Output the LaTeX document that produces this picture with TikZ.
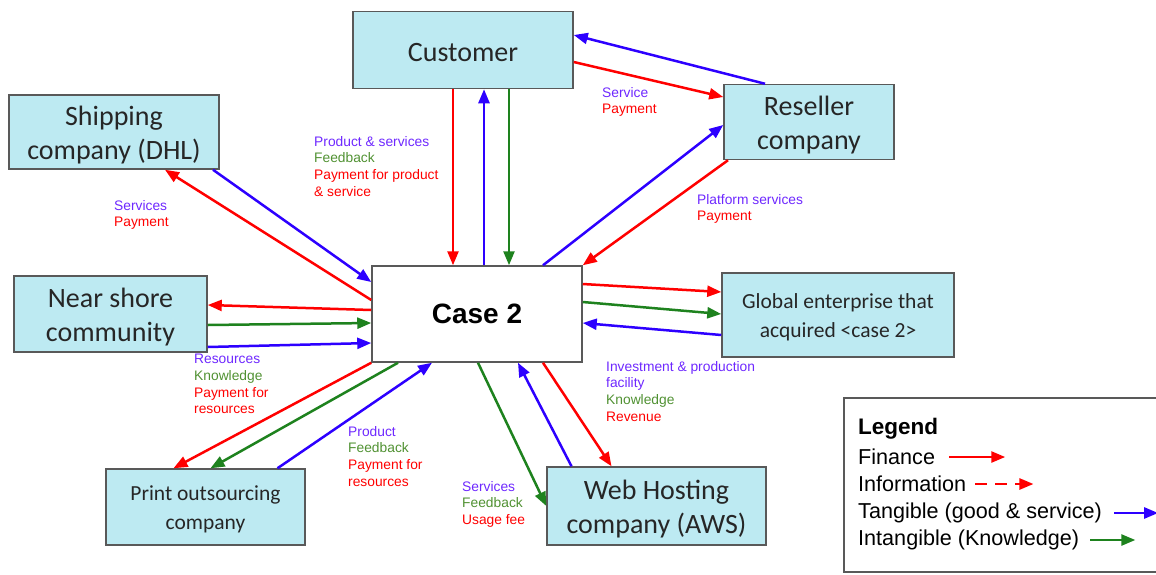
\documentclass[tikz,border=0pt]{standalone}
\usepackage{fontspec}
\setmainfont{Carlito}
\newfontfamily\arialfont{Liberation Sans}
\usetikzlibrary{arrows.meta}
\definecolor{boxcyan}{RGB}{189,234,242}
\definecolor{fincol}{RGB}{255,0,0}
\definecolor{tancol}{RGB}{45,0,255}
\definecolor{intcol}{RGB}{30,130,30}
\definecolor{tanlab}{RGB}{110,40,255}
\definecolor{intlab}{RGB}{80,145,50}
\newcommand\bigfont{\fontsize{28}{34}\selectfont}
\newcommand\midfont{\fontsize{21.5}{29}\selectfont}
\newcommand\labfont{\arialfont\fontsize{13.8}{16.7}\selectfont}
\newcommand\legfont{\arialfont\fontsize{21.6}{27}\selectfont}
\begin{document}
\begin{tikzpicture}[x=1pt,y=-1pt,
  actor/.style={draw=black!65, line width=1.5pt, fill=boxcyan, align=center, text=black!85, inner sep=0pt, font=\bigfont},
  flow/.style={line width=2.5pt, -{Triangle[length=14pt,width=11pt]}},
  finflow/.style={flow, fincol}, tanflow/.style={flow, tancol}, intflow/.style={flow, intcol},
  lab/.style={anchor=north west, inner sep=0pt, align=left, font=\labfont},
  leg/.style={anchor=west, inner sep=0pt, font=\legfont}]
  \clip (0,0) rectangle (1156,574);
  \node[actor, minimum width=220pt, minimum height=77pt] (cust) at (463,50) {\rule{0pt}{24pt}Customer};
  \node[actor, minimum width=170pt, minimum height=75pt] (resel) at (809,122) {\rule{0pt}{26pt}Reseller\\company};
  \node[actor, minimum width=210pt, minimum height=74pt] (ship) at (114,132) {\rule{0pt}{26pt}Shipping\\company (DHL)};
  \node[actor, minimum width=193pt, minimum height=76pt] (near) at (110.5,314) {\rule{0pt}{26pt}Near shore\\community};
  \node[actor, fill=white, minimum width=210pt, minimum height=96pt, font=\arialfont\bfseries\fontsize{28}{34}\selectfont, text=black] (case) at (477,314) {Case 2};
  \node[actor, minimum width=232pt, minimum height=84pt, font=\midfont] (glob) at (838,315) {\rule{0pt}{19pt}Global enterprise that\\acquired <case 2>};
  \node[actor, minimum width=199pt, minimum height=76pt, font=\midfont] (print) at (205.5,507) {\rule{0pt}{19pt}Print outsourcing\\company};
  \node[actor, minimum width=219pt, minimum height=78pt] (web) at (656.5,506) {\rule{0pt}{26pt}Web Hosting\\company (AWS)};

  \draw[finflow] ([xshift=-10pt]cust.south) -- ([xshift=-24pt]case.north);
  \draw[tanflow] ([xshift=7pt]case.north) -- ([xshift=21pt]cust.south);
  \draw[intflow] ([xshift=46pt]cust.south) -- ([xshift=32pt]case.north);
  \draw[tanflow] ([xshift=-44pt]resel.north) -- ([yshift=15pt]cust.east);
  \draw[finflow] ([yshift=-12pt]cust.east) -- ([yshift=25pt]resel.west);
  \draw[tanflow] ([xshift=66pt]case.north) -- ([yshift=-3pt]resel.west);
  \draw[finflow] ([xshift=-81pt]resel.south) -- (case.north east);
  \draw[finflow] ([yshift=14pt]case.west) -- ([xshift=51pt]ship.south);
  \draw[tanflow] ([xshift=99pt]ship.south) -- ([yshift=32pt]case.west);
  \draw[finflow] ([yshift=4pt]case.west) -- ([yshift=9pt]near.east);
  \draw[intflow] ([yshift=-11pt]near.east) -- ([yshift=-9pt]case.west);
  \draw[tanflow] ([yshift=-33pt]near.east) -- ([yshift=-29pt]case.west);
  \draw[finflow] (case.south west) -- ([xshift=-32pt]print.north);
  \draw[intflow] ([xshift=-79pt]case.south) -- ([xshift=5pt]print.north);
  \draw[tanflow] ([xshift=72pt]print.north) -- ([xshift=-45pt]case.south);
  \draw[intflow] ([xshift=1pt]case.south) -- (web.west);
  \draw[tanflow] ([xshift=-85pt]web.north) -- ([xshift=41pt]case.south);
  \draw[finflow] ([xshift=66pt]case.south) -- ([xshift=-45pt]web.north);
  \draw[finflow] ([yshift=30pt]case.east) -- ([yshift=23pt]glob.west);
  \draw[intflow] ([yshift=12pt]case.east) -- ([yshift=1pt]glob.west);
  \draw[tanflow] ([yshift=-20pt]glob.west) -- ([yshift=-9pt]case.east);

  \node[lab] (labcust) at (314,136) {\textcolor{tanlab}{Product \& services}\\\textcolor{intlab}{Feedback}\\\textcolor{fincol}{Payment for product}\\\textcolor{fincol}{\& service}};
  \node[lab] (labship) at (114,200) {\textcolor{tanlab}{Services}\\\textcolor{fincol}{Payment}};
  \node[lab] (labresc) at (602,87) {\textcolor{tanlab}{Service}\\\textcolor{fincol}{Payment}};
  \node[lab] (labresel) at (697,194) {\textcolor{tanlab}{Platform services}\\\textcolor{fincol}{Payment}};
  \node[lab] (labnear) at (194,354) {\textcolor{tanlab}{Resources}\\\textcolor{intlab}{Knowledge}\\\textcolor{fincol}{Payment for}\\\textcolor{fincol}{resources}};
  \node[lab] (labprint) at (348,426) {\textcolor{tanlab}{Product}\\\textcolor{intlab}{Feedback}\\\textcolor{fincol}{Payment for}\\\textcolor{fincol}{resources}};
  \node[lab] (labweb) at (462,481) {\textcolor{tanlab}{Services}\\\textcolor{intlab}{Feedback}\\\textcolor{fincol}{Usage fee}};
  \node[lab] (labglob) at (606,361) {\textcolor{tanlab}{Investment \& production}\\\textcolor{tanlab}{facility}\\\textcolor{intlab}{Knowledge}\\\textcolor{fincol}{Revenue}};

  \draw[black!65, line width=1.5pt] (844,398) rectangle (1175,572);
  \node[leg, font=\arialfont\bfseries\fontsize{22.5}{27}\selectfont] (legtitle) at (858,429) {Legend};
  \node[leg] (legfin) at (858,457) {Finance};
  \node[leg] (leginfo) at (858,484) {Information};
  \node[leg] (legtan) at (858,513) {Tangible (good \& service)};
  \node[leg] (legint) at (858,540) {Intangible (Knowledge)};
  \draw[finflow] ([xshift=14pt]legfin.east) -- ++(56,0) coordinate (legfinend);
  \draw[finflow, dash pattern=on 12pt off 8pt] ([xshift=9pt]leginfo.east) -- ++(58,0) coordinate (leginfoend);
  \draw[tanflow] ([xshift=12pt]legtan.east) -- ++(44,0) coordinate (legtanend);
  \draw[intflow] ([xshift=11pt]legint.east) -- ++(45,0) coordinate (legintend);
\end{tikzpicture}
\end{document}
